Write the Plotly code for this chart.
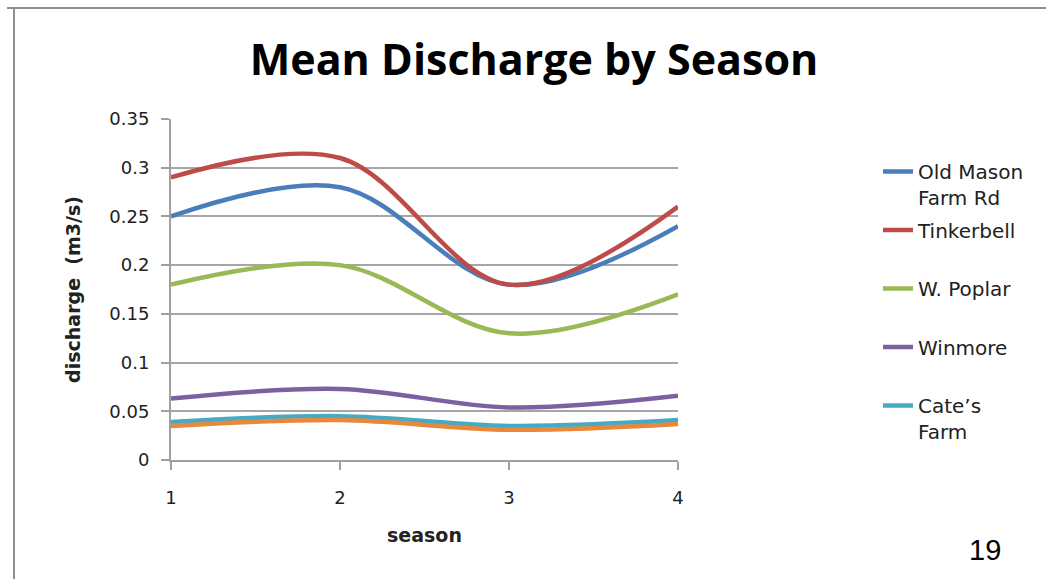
import plotly.graph_objects as go

seasons = [1, 2, 3, 4]
old_mason = [0.25, 0.28, 0.18, 0.24]
tinkerbell = [0.29, 0.31, 0.18, 0.26]
w_poplar = [0.18, 0.20, 0.13, 0.17]
winmore = [0.063, 0.073, 0.054, 0.066]
cates_farm = [0.039, 0.045, 0.035, 0.041]
unlabeled = [0.035, 0.041, 0.031, 0.037]

series = [
    ("Old Mason<br>Farm Rd", old_mason, "#4A7EBB", True),
    ("Tinkerbell<br>&nbsp;", tinkerbell, "#BE4B48", True),
    ("W. Poplar<br>&nbsp;", w_poplar, "#98B954", True),
    ("Winmore<br>&nbsp;", winmore, "#7D60A0", True),
    ("Cate\u2019s<br>Farm", cates_farm, "#46AAC5", True),
    ("", unlabeled, "#E8883A", False),
]

y_ticks = [0, 0.05, 0.1, 0.15, 0.2, 0.25, 0.3, 0.35]
y_ticktext = ["0", "0.05", "0.1", "0.15", "0.2", "0.25", "0.3", "0.35"]

W, H = 1046, 579
L, R, T, B = 171, 368, 119, 119
pw, ph = W - L - R, H - T - B


def px(x):
    return (x - L) / pw


def py(y):
    return (H - B - y) / ph


fig = go.Figure()
for i, (name, vals, color, show) in enumerate(series):
    fig.add_trace(go.Scatter(
        x=seasons, y=vals, name=name, mode="lines", legendgroup=f"g{i}",
        line=dict(color=color, width=4.5, shape="spline", smoothing=1.0),
        showlegend=show, hoverinfo="skip",
    ))

fig.update_layout(
    width=W, height=H,
    margin=dict(l=L, r=R, t=T, b=B),
    paper_bgcolor="white", plot_bgcolor="white",
    title=dict(text="<b>Mean Discharge by Season</b>", x=534 / W, xanchor="center",
               y=1 - 60 / H, yanchor="middle",
               font=dict(family="Open Sans", size=43, color="#000000")),
    xaxis=dict(range=[1, 4], tickvals=seasons, ticktext=["1", "2", "3", "4"],
               showgrid=False, zeroline=False, showline=True, linecolor="#A0A0A0", linewidth=2,
               ticks="outside", ticklen=8, tickcolor="#A0A0A0", tickwidth=2,
               ticklabelstandoff=12,
               tickfont=dict(family="DejaVu Sans", size=18, color="#222222"),
               title=dict(text="<b>season</b>", standoff=22,
                          font=dict(family="DejaVu Sans", size=19, color="#222222"))),
    yaxis=dict(range=[0, 0.35], tickvals=y_ticks, ticktext=y_ticktext,
               showgrid=True, gridcolor="#A6A6A6", gridwidth=1.5, zeroline=False,
               showline=True, linecolor="#A0A0A0", linewidth=2,
               ticks="outside", ticklen=8, tickcolor="#A0A0A0", tickwidth=2,
               ticklabelstandoff=8,
               tickfont=dict(family="DejaVu Sans", size=18, color="#222222"),
               title=dict(text="<b>discharge  (m3/s)</b>", standoff=24,
                          font=dict(family="DejaVu Sans", size=19, color="#222222"))),
    legend=dict(x=px(878), y=py(152), xanchor="left", yanchor="top",
                valign="top", tracegroupgap=3.5,
                font=dict(family="DejaVu Sans", size=20, color="#222222"),
                bgcolor="rgba(0,0,0,0)"),
    showlegend=True,
)

fig.add_annotation(text="19", xref="paper", yref="paper", x=px(985), y=py(550),
                   xanchor="center", yanchor="middle",
                   showarrow=False, font=dict(family="Liberation Sans", size=29, color="#000000"))

fig.add_shape(type="line", xref="paper", yref="paper", x0=px(7), x1=px(1046), y0=py(8), y1=py(8),
              line=dict(color="#909090", width=2))
fig.add_shape(type="line", xref="paper", yref="paper", x0=px(14), x1=px(14), y0=py(8), y1=py(579),
              line=dict(color="#909090", width=2))

fig.write_html("out.html", config={"displayModeBar": False},
               post_script="document.body.style.margin='0';")
